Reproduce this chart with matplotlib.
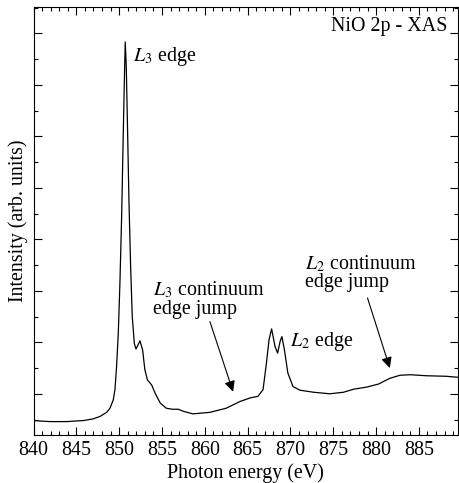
import matplotlib
matplotlib.use('Agg')
import matplotlib.pyplot as plt
from matplotlib.ticker import MultipleLocator, NullFormatter

plt.rcParams['font.family'] = ['Liberation Serif', 'DejaVu Serif']
plt.rcParams['mathtext.fontset'] = 'stix'

# NiO 2p XAS spectrum
energy = [840.0, 841.9, 843.9, 845.8, 846.9, 847.76, 848.54, 848.93, 849.31, 849.51,
          849.70, 849.90, 850.09, 850.29, 850.48, 850.60, 850.71, 850.83, 850.99, 851.14,
          851.34, 851.53, 851.77, 851.96, 852.15, 852.43, 852.74, 853.0, 853.3, 853.8,
          854.2, 854.8, 855.5, 856.2, 856.9, 857.5, 858.6, 860.6, 862.5, 864.1,
          865.3, 866.2, 866.8, 867.2, 867.5, 867.8, 868.2, 868.5, 868.8, 869.0,
          869.3, 869.7, 870.3, 871.1, 872.7, 874.6, 876.2, 877.4, 878.9, 880.3,
          881.0, 881.6, 882.8, 884.0, 885.9, 888.2, 889.6]
intensity = [0.48, 0.46, 0.46, 0.48, 0.51, 0.56, 0.64, 0.72, 0.88, 1.08,
             1.53, 2.18, 3.15, 4.44, 6.06, 7.03, 7.83, 7.36, 6.06, 4.77,
             3.47, 2.50, 1.98, 1.87, 1.93, 2.03, 1.85, 1.47, 1.27, 1.17,
             1.01, 0.82, 0.72, 0.70, 0.70, 0.66, 0.61, 0.64, 0.72, 0.85,
             0.92, 0.95, 1.08, 1.60, 2.05, 2.26, 1.92, 1.79, 2.02, 2.11,
             1.85, 1.40, 1.14, 1.07, 1.03, 1.00, 1.03, 1.09, 1.13, 1.19,
             1.25, 1.30, 1.36, 1.37, 1.35, 1.34, 1.32]

x_ticks = [840, 845, 850, 855, 860, 865, 870, 875, 880, 885]

fig = plt.figure(figsize=(4.59, 4.83), dpi=100)
ax = fig.add_axes([0.073, 0.0994, 0.9255, 0.8861])

ax.plot(energy, intensity, color='k', lw=0.9)

ax.set_xlim(840, 889.6)
ax.set_ylim(0.2, 8.51)
ax.set_xticks(x_ticks)
ax.xaxis.set_minor_locator(MultipleLocator(1))
ax.yaxis.set_major_locator(MultipleLocator(1))
ax.yaxis.set_minor_locator(MultipleLocator(0.5))
ax.yaxis.set_major_formatter(NullFormatter())
ax.tick_params(which='both', direction='in', top=True, right=True,
               width=0.8, labelsize=14.4, pad=4)
ax.tick_params(which='major', length=5.5)
ax.tick_params(which='minor', length=3)
for sp in ax.spines.values():
    sp.set_linewidth(0.8)

ax.set_xlabel('Photon energy (eV)', fontsize=14.4, labelpad=3)
ax.set_ylabel('Intensity (arb. units)', fontsize=14.4, labelpad=0)

ax.text(0.975, 0.955, 'NiO 2p - XAS', transform=ax.transAxes,
        ha='right', va='center', fontsize=14.4)
ax.text(851.6, 7.55, '$L_3$ edge', ha='left', va='center', fontsize=14.4)
ax.text(869.9, 2.02, '$L_2$ edge', ha='left', va='center', fontsize=14.4)

arrow = dict(arrowstyle='-|>', color='k', lw=0.8, mutation_scale=16,
             shrinkA=0, shrinkB=0)
ax.annotate('', xy=(863.3, 1.04), xytext=(860.6, 2.40), arrowprops=arrow)
ax.annotate('', xy=(881.6, 1.50), xytext=(879.0, 2.86), arrowprops=arrow)
ax.text(853.9, 2.83, '$L_3$ continuum\nedge jump', ha='left', va='center',
        fontsize=14.4, linespacing=0.95)
ax.text(871.7, 3.35, '$L_2$ continuum\nedge jump', ha='left', va='center',
        fontsize=14.4, linespacing=0.95)

fig.savefig('out.png', dpi=100)
